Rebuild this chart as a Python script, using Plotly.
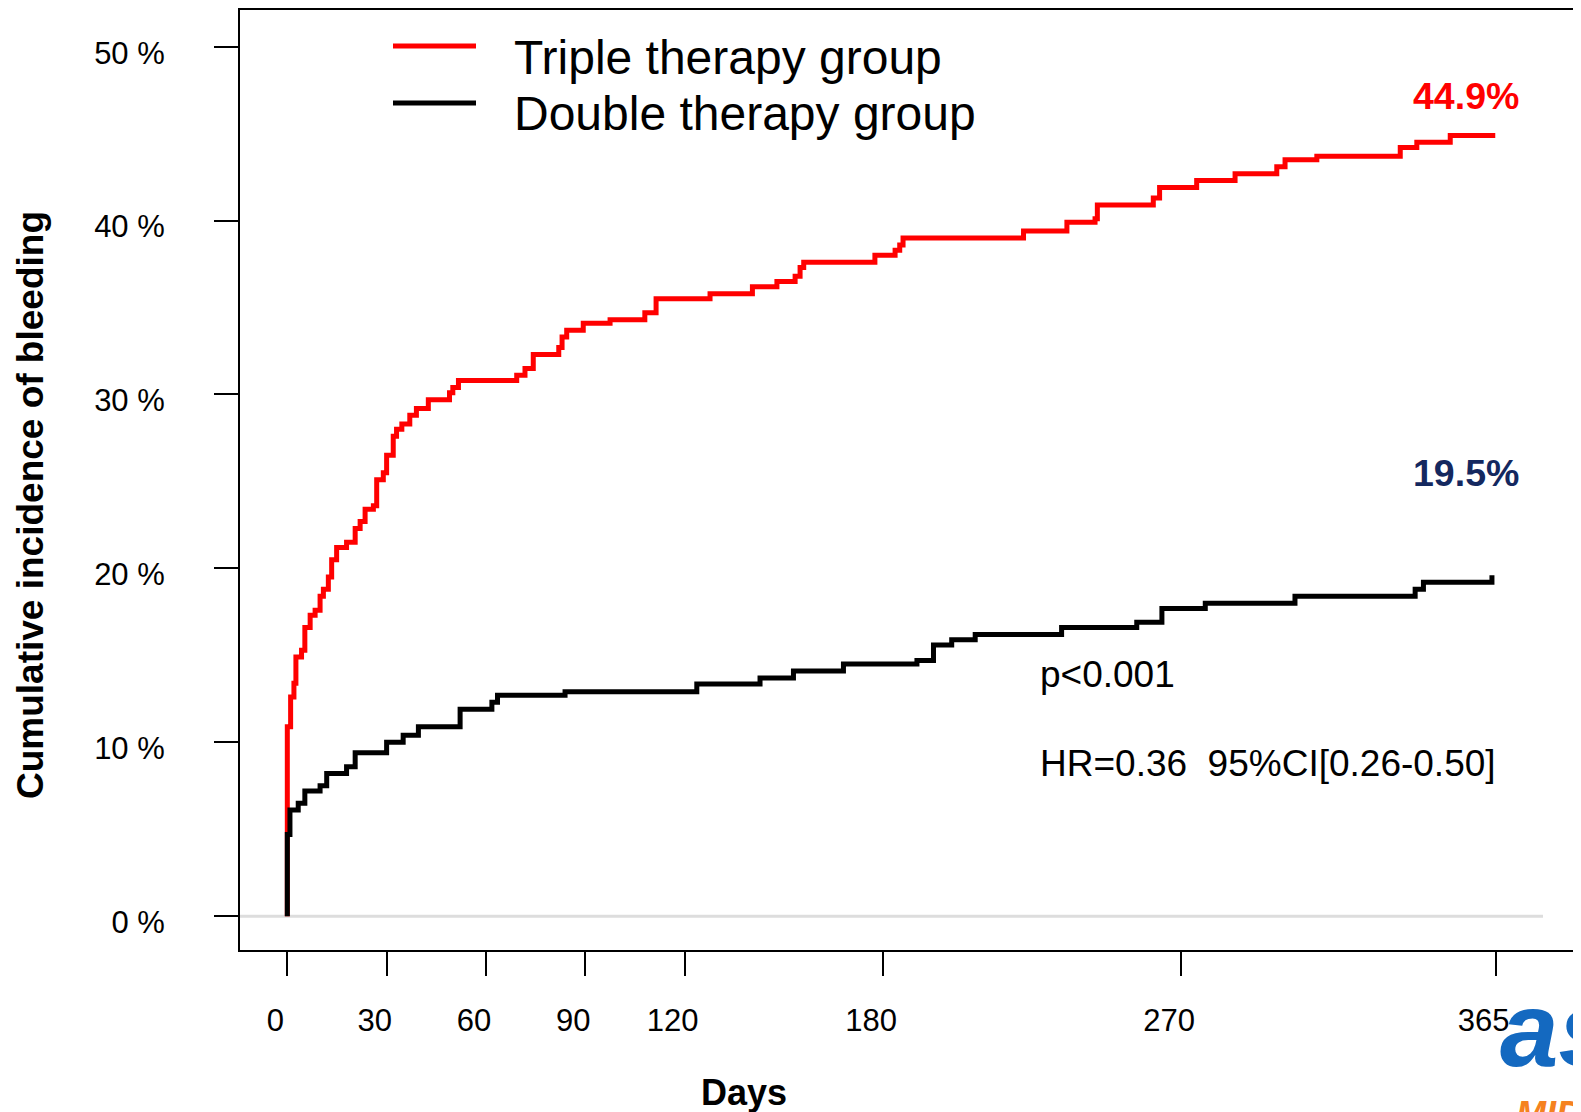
import plotly.graph_objects as go

# ---- data (days, cumulative incidence %) ----
triple_days = [0, 0, 1.0, 2.0, 2.6, 4.3, 5.3, 6.9, 8.4, 9.9, 10.9, 12.4, 13.4, 14.9, 17.9, 20.5, 22.0,
               23.5, 26.0, 27.0, 29.0, 30.0, 32.0, 33.0, 34.6, 37.0, 39.0, 42.6, 49.0, 50.0, 51.7,
               69.3, 71.8, 74.3, 82.0, 83.0, 84.4, 89.4, 97.5, 108.0, 111.4, 127.7, 140.5, 147.9,
               153.4, 154.9, 156.0, 177.5, 183.6, 185.0, 186.0, 222.4, 235.5, 244.0, 244.7, 261.6,
               263.5, 274.7, 286.3, 298.9, 301.4, 311.0, 336.2, 341.2, 351.3, 364.9]
triple_pct = [0, 10.9, 12.6, 13.4, 14.9, 15.3, 16.6, 17.3, 17.6, 18.4, 18.8, 19.5, 20.5, 21.2, 21.5, 22.3, 22.7,
              23.4, 23.6, 25.1, 25.5, 26.5, 27.6, 28.0, 28.3, 28.8, 29.2, 29.7, 30.1, 30.4, 30.8,
              31.1, 31.5, 32.3, 32.7, 33.3, 33.7, 34.1, 34.3, 34.7, 35.5, 35.8, 36.2, 36.5,
              36.8, 37.3, 37.6, 38.0, 38.3, 38.6, 39.0, 39.4, 39.9, 40.1, 40.9, 41.3,
              41.9, 42.3, 42.7, 43.1, 43.5, 43.7, 44.2, 44.5, 44.9, 44.9]

double_days = [0, 0, 0.8, 3.3, 5.3, 9.9, 11.9, 17.9, 20.5, 30.0, 35.0, 39.6, 52.2, 61.8, 63.5, 83.9,
               123.7, 142.8, 152.9, 168.0, 190.2, 195.2, 200.7, 207.8, 233.9, 256.6, 264.2, 277.3,
               304.4, 340.7, 343.2, 363.9]
double_pct = [0, 4.7, 6.1, 6.5, 7.2, 7.5, 8.2, 8.6, 9.4, 10.0, 10.4, 10.9, 11.9, 12.3, 12.7, 12.9,
              13.35, 13.7, 14.1, 14.5, 14.7, 15.6, 15.9, 16.2, 16.6, 16.9, 17.7, 18.0,
              18.4, 18.8, 19.2, 19.6]

x_ticks = [0, 30, 60, 90, 120, 180, 270, 365]
y_ticks = [0, 10, 20, 30, 40, 50]
series_names = ["Triple therapy group", "Double therapy group"]
final_labels = ["44.9%", "19.5%"]

# page is rendered with an 8px body margin -> compensate
OFF = 8
PAGE_W, PAGE_H = 1581, 1112
W, H = PAGE_W - OFF, PAGE_H - OFF
# plot area in page pixels: x 240..1581, y 10..950
PL, PT, PR, PB = 240, 10, 1581, 950
PW, PH = PR - PL, PB - PT

def px(x):
    return (x - PL) / PW

def py(y):
    return (PB - y) / PH

FONT = "Liberation Sans, Arial, sans-serif"

fig = go.Figure()
fig.add_trace(go.Scatter(x=triple_days, y=triple_pct, mode="lines", line_shape="hv",
                         line=dict(color="#ff0000", width=5), name=series_names[0], showlegend=False))
fig.add_trace(go.Scatter(x=double_days, y=double_pct, mode="lines", line_shape="hv",
                         line=dict(color="#000000", width=5), name=series_names[1], showlegend=False))

shapes = [
    dict(type="line", xref="paper", yref="y", x0=0, x1=px(1543), y0=0, y1=0,
         line=dict(color="#dddddd", width=3), layer="below"),
    dict(type="line", xref="paper", yref="paper", x0=px(393), x1=px(476), y0=py(46), y1=py(46),
         line=dict(color="#ff0000", width=5)),
    dict(type="line", xref="paper", yref="paper", x0=px(393), x1=px(476), y0=py(103), y1=py(103),
         line=dict(color="#000000", width=5)),
]

annotations = [
    dict(text=series_names[0], x=px(512), y=py(57), xanchor="left", yanchor="middle",
         font=dict(size=48, color="black", family=FONT)),
    dict(text=series_names[1], x=px(512), y=py(113), xanchor="left", yanchor="middle",
         font=dict(size=48, color="black", family=FONT)),
    dict(text="<b>" + final_labels[0] + "</b>", x=px(1466), y=py(96), xanchor="center", yanchor="middle",
         font=dict(size=37.5, color="#ff0000", family=FONT)),
    dict(text="<b>" + final_labels[1] + "</b>", x=px(1466), y=py(473), xanchor="center", yanchor="middle",
         font=dict(size=37.5, color="#14285f", family=FONT)),
    dict(text="p<0.001", x=px(1038), y=py(674), xanchor="left", yanchor="middle",
         font=dict(size=37, color="black", family=FONT)),
    dict(text="HR=0.36 \u00a095%CI[0.26-0.50]", x=px(1038), y=py(763), xanchor="left", yanchor="middle",
         font=dict(size=37, color="black", family=FONT)),
    dict(text="<b>Days</b>", x=px(744), y=py(1092), xanchor="center", yanchor="middle",
         font=dict(size=36, color="black", family=FONT)),
    dict(text="<b>Cumulative incidence of bleeding</b>", x=px(30), y=py(505), textangle=-90,
         xanchor="center", yanchor="middle", font=dict(size=37, color="black", family=FONT)),
    # partial logo at lower right
    dict(text="<b><i>as</i></b>", x=px(1498), y=py(1030), xanchor="left", yanchor="middle",
         font=dict(size=105, color="#1469c0", family=FONT)),
    dict(text="<b><i>MID</i></b>", x=px(1514), y=py(1114), xanchor="left", yanchor="middle",
         font=dict(size=36, color="#f58220", family=FONT)),
]
for a in annotations:
    a.update(xref="paper", yref="paper", showarrow=False)

fig.update_layout(
    width=W, height=H,
    margin=dict(l=PL - OFF, r=PAGE_W - PR, t=PT - OFF, b=PAGE_H - PB, pad=0),
    plot_bgcolor="white", paper_bgcolor="white",
    font=dict(family=FONT, color="black"),
    shapes=shapes, annotations=annotations,
    showlegend=False,
)
fig.update_xaxes(range=[-14.29, 390.8], tickvals=x_ticks, ticktext=[str(v) for v in x_ticks],
                 showgrid=False, zeroline=False, showline=True, linecolor="black", linewidth=2,
                 mirror=True, ticks="outside", ticklen=24, tickwidth=2, tickcolor="black",
                 tickfont=dict(size=31, family=FONT, color="black"),
                 ticklabelshift=-12, ticklabelstandoff=18)
fig.update_yaxes(range=[-1.944, 52.11], tickvals=y_ticks, ticktext=[f"{v} %" for v in y_ticks],
                 showgrid=False, zeroline=False, showline=True, linecolor="black", linewidth=2,
                 ticks="outside", ticklen=24, tickwidth=2, tickcolor="black",
                 tickfont=dict(size=31, family=FONT, color="black"),
                 ticklabelshift=6, ticklabelstandoff=43)

fig.write_html("out.html")
